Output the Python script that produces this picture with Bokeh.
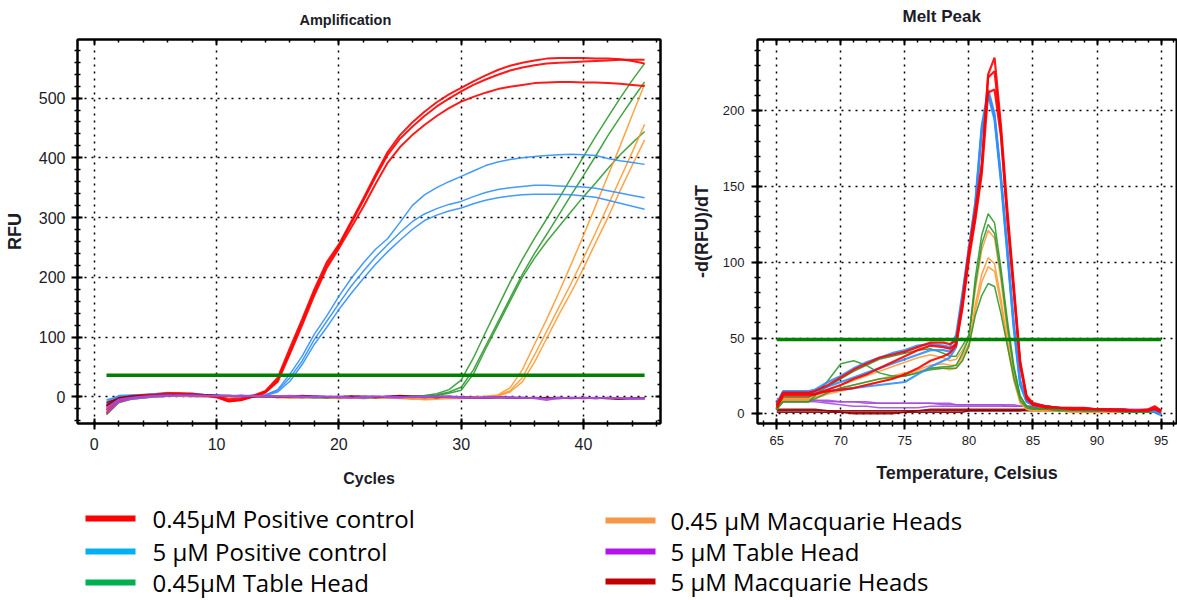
from bokeh.plotting import figure
from bokeh.models import Range1d, LinearAxis, FixedTicker, ColumnDataSource, CustomJSTickFormatter
from bokeh.layouts import column, row
from bokeh.embed import file_html
from bokeh.resources import INLINE
from bokeh.core.properties import value

# ---------------- data: amplification ----------------
CYCLES = list(range(1, 46))

AMP_POS_045 = [
    [-22, -4, 0, 2, 3, 5, 6, 5, 3, 1, -4, -3, 2, 10, 32, 82, 130, 180, 225, 255, 293, 332, 372, 410, 438, 459, 477, 493, 506, 517, 528, 538, 547, 554, 559, 563, 566, 567, 567, 567, 566, 566, 565, 562, 558],
    [-15, -2, 1, 3, 4, 6, 5, 4, 2, 0, -7, -5, 1, 8, 28, 76, 125, 175, 220, 252, 290, 328, 368, 405, 432, 452, 470, 486, 499, 511, 522, 531, 539, 546, 551, 555, 558, 559, 560, 561, 562, 563, 564, 564, 564],
    [-28, -8, -2, 1, 2, 4, 4, 3, 2, -1, -8, -6, 0, 7, 25, 72, 120, 170, 215, 248, 283, 318, 356, 392, 418, 438, 455, 470, 483, 494, 502, 509, 515, 519, 522, 525, 526, 527, 527, 526, 526, 525, 524, 522, 520],
]
AMP_POS_5 = [
    [-8, 2, 3, 4, 5, 7, 6, 6, 4, 3, 2, 2, 2, 3, 12, 38, 68, 105, 135, 168, 198, 224, 247, 265, 292, 320, 338, 350, 360, 369, 378, 387, 393, 397, 400, 402, 404, 405, 406, 405, 404, 399, 395, 392, 389],
    [-5, 0, 2, 3, 5, 6, 5, 4, 3, 2, 1, 1, 2, 3, 10, 32, 60, 96, 126, 156, 185, 210, 234, 255, 275, 293, 306, 315, 322, 327, 335, 342, 347, 350, 352, 354, 354, 353, 352, 351, 349, 345, 341, 337, 333],
    [-12, -2, 1, 2, 4, 5, 5, 4, 3, 2, 1, 0, 1, 2, 8, 26, 54, 88, 116, 146, 173, 198, 222, 243, 262, 280, 295, 304, 311, 316, 323, 329, 333, 336, 338, 339, 339, 339, 338, 336, 334, 329, 324, 319, 314],
]
AMP_TABLE_045 = [
    [-30, -10, -4, -2, 0, 1, 2, 2, 1, 2, 1, 0, 1, 1, 0, -1, -1, 0, -1, -2, -1, -2, -1, 0, 1, 1, 2, 5, 12, 28, 65, 108, 150, 192, 230, 265, 298, 332, 367, 402, 436, 468, 500, 530, 558],
    [-26, -8, -3, -1, 0, 1, 1, 2, 2, 1, 1, 0, 0, 1, 0, -1, 0, -1, -2, -1, -2, -3, -2, -1, 0, 1, 1, 3, 8, 16, 45, 85, 125, 165, 205, 240, 272, 305, 338, 370, 403, 437, 468, 498, 527],
    [-22, -6, -2, 0, 1, 1, 2, 1, 1, 0, 1, 1, 0, 0, -1, 0, -1, -2, -1, -3, -2, -2, -1, -1, 0, 0, 1, 2, 6, 11, 38, 80, 120, 160, 200, 232, 260, 285, 310, 335, 358, 382, 405, 425, 444],
]
AMP_MACQ_045 = [
    [-20, -6, -2, 0, 1, 1, 2, 1, 0, 1, 0, -1, 0, 1, 0, -1, -2, -1, 0, -1, -2, -1, 0, -1, -2, -3, -4, -2, -1, -2, 0, 1, 3, 15, 45, 88, 130, 175, 222, 270, 320, 370, 420, 472, 523],
    [-18, -5, -1, 0, 1, 2, 1, 1, 0, 0, -1, 0, 1, 0, -1, -1, 0, -1, -1, -2, -1, -1, -2, -2, -3, -4, -3, -2, -3, -2, -1, 0, 2, 10, 32, 70, 110, 150, 190, 232, 275, 320, 365, 410, 456],
    [-24, -7, -3, -1, 0, 1, 1, 0, 0, 1, 0, -1, 0, 0, -1, -2, -1, 0, -1, -2, -2, -1, -1, -2, -2, -3, -5, -4, -3, -3, -2, -1, 1, 8, 25, 58, 98, 138, 175, 215, 258, 300, 345, 388, 430],
]
AMP_TABLE_5 = [
    [-28, -9, -4, -2, 0, 1, 2, 1, 1, 2, 1, 0, 1, 2, 1, 0, -1, 1, 0, -1, -2, 0, 1, -1, -2, 0, 1, 0, -1, -2, -1, 0, -1, -2, -1, -3, -6, -2, -1, -2, -3, -1, -2, -4, -3],
    [-22, -6, -2, 0, 1, 2, 3, 2, 2, 1, 2, 1, 2, 1, 0, 1, 0, -1, 0, 1, -1, -2, 0, 1, 0, -1, 0, 1, 0, -1, -2, -1, 0, -1, -2, -1, -4, -3, -1, -2, -1, -2, -3, -2, -4],
    [-18, -4, -1, 1, 2, 3, 2, 3, 2, 2, 1, 2, 1, 0, 1, 2, 1, 0, 1, 0, -1, 0, 1, 0, -1, 0, -1, 0, 1, 0, -1, -2, -1, 0, -1, -2, -3, -1, -2, -1, -2, -1, -3, -4, -2],
]
AMP_MACQ_5 = [
    [-14, -3, 0, 1, 2, 2, 3, 4, 3, 2, 2, 1, 2, 1, 0, 1, 2, 1, 0, 0, 1, 0, -1, 1, 2, 0, -1, 0, 1, -1, -2, -1, 0, -1, -2, -1, -2, -3, -2, -1, -2, -3, -2, -3, -2],
    [-10, -2, 1, 2, 2, 3, 3, 2, 3, 2, 1, 1, 0, 1, 0, 0, 1, 0, -1, 0, 1, 1, 0, 0, 1, 1, 0, -1, 0, 0, -1, -2, -1, -1, -2, -2, -1, -2, -3, -2, -3, -2, -4, -3, -3],
    [-16, -4, -1, 0, 1, 2, 2, 3, 2, 1, 1, 2, 1, 0, 1, 0, 0, 1, 0, -1, 0, 0, -1, 0, 1, 0, 0, -1, 0, -1, -1, -2, -1, -2, -1, -2, -2, -1, -2, -3, -2, -3, -4, -2, -3],
]
AMP_THRESHOLD = 36

# ---------------- data: melt peak ----------------
TEMPS = [65, 65.5, 66, 67, 67.5, 68, 69, 70, 71, 72, 73, 74, 75, 76, 77, 78, 78.5, 79,
         79.5, 80, 80.5, 81, 81.5, 82, 82.5, 83, 83.5, 84, 84.5, 85,
         86, 87, 88, 89, 90, 91, 92, 93, 94, 94.5, 95]

MELT_POS_045 = [
    [6, 14, 14, 14, 14, 15, 19, 24, 29, 33, 37, 39, 41, 44, 47, 47, 46, 48, 75, 108, 135, 165, 224, 235, 190, 135, 85, 35, 12, 7, 5, 4, 4, 4, 3, 3, 3, 2, 2, 4, 2],
    [5, 13, 13, 13, 13, 13, 15, 16, 17, 19, 21, 23, 26, 30, 35, 38, 40, 45, 72, 105, 130, 162, 222, 226, 186, 130, 82, 33, 11, 6, 4, 4, 3, 3, 3, 3, 2, 2, 2, 3, 1],
    [4, 12, 12, 12, 12, 13, 16, 19, 23, 26, 30, 34, 38, 42, 45, 44, 43, 46, 70, 102, 128, 158, 212, 214, 183, 128, 80, 32, 10, 6, 5, 4, 3, 3, 3, 2, 2, 2, 3, 5, 2],
]
MELT_POS_5 = [
    [7, 15, 15, 15, 15, 16, 21, 25, 30, 34, 37, 40, 42, 45, 46, 45, 44, 52, 80, 110, 140, 190, 214, 198, 157, 110, 60, 22, 9, 7, 5, 4, 4, 3, 3, 3, 3, 2, 2, 2, 0],
    [6, 14, 14, 14, 14, 14, 15, 16, 17, 18, 19, 20, 21, 26, 31, 35, 37, 44, 78, 108, 138, 188, 212, 196, 155, 107, 58, 20, 8, 6, 5, 4, 3, 3, 3, 2, 2, 2, 2, 1, -1],
    [6, 14, 14, 14, 14, 15, 18, 21, 24, 27, 30, 33, 36, 39, 42, 42, 41, 47, 76, 106, 136, 186, 210, 194, 153, 105, 56, 19, 8, 6, 5, 4, 3, 3, 3, 2, 2, 2, 2, 2, 0],
]
MELT_TABLE_045 = [
    [3, 8, 8, 8, 8, 12, 22, 33, 35, 32, 27, 25, 25, 27, 30, 31, 31, 32, 40, 50, 90, 118, 132, 126, 96, 62, 32, 12, 5, 4, 3, 3, 3, 2, 2, 2, 2, 1, 1, 1, 0],
    [4, 11, 11, 11, 11, 13, 18, 23, 28, 32, 36, 38, 40, 42, 43, 40, 38, 38, 45, 52, 85, 112, 125, 119, 92, 58, 30, 11, 5, 4, 3, 3, 3, 2, 2, 2, 2, 1, 1, 1, 0],
    [3, 8, 8, 8, 8, 10, 14, 17, 19, 21, 23, 24, 25, 27, 29, 30, 30, 30, 35, 45, 65, 78, 86, 84, 66, 45, 24, 9, 4, 3, 3, 2, 2, 2, 2, 2, 1, 1, 1, 1, 0],
]
MELT_MACQ_045 = [
    [4, 10, 10, 10, 10, 12, 16, 19, 22, 25, 28, 31, 34, 37, 39, 37, 35, 36, 42, 50, 82, 108, 121, 116, 88, 54, 27, 9, 4, 3, 2, 2, 2, 2, 1, 1, 1, 1, 1, 2, 1],
    [4, 10, 10, 10, 10, 11, 14, 17, 19, 21, 23, 25, 27, 29, 32, 33, 32, 32, 38, 46, 72, 92, 103, 99, 76, 48, 24, 8, 3, 2, 2, 2, 2, 1, 1, 1, 1, 1, 1, 2, 1],
    [3, 9, 9, 9, 9, 10, 13, 15, 17, 19, 21, 23, 26, 28, 30, 30, 29, 30, 36, 44, 68, 87, 97, 94, 72, 45, 22, 7, 3, 2, 2, 2, 1, 1, 1, 1, 1, 1, 1, 2, 1],
]
MELT_TABLE_5 = [
    [9, 9, 9, 9, 9, 9, 8, 8, 8, 7, 7, 7, 7, 7, 7, 6, 6, 6, 6, 6, 6, 6, 6, 6, 6, 5, 5, 5, 5, 5, 5, 4, 4, 4, 3, 3, 3, 2, 2, 2, 2],
    [8, 8, 8, 8, 8, 8, 7, 6, 5, 5, 4, 4, 4, 4, 5, 5, 5, 5, 5, 5, 5, 5, 5, 5, 5, 5, 5, 5, 5, 4, 4, 4, 4, 3, 3, 3, 3, 2, 2, 2, 2],
    [10, 10, 10, 10, 10, 9, 9, 8, 8, 8, 7, 7, 7, 7, 7, 7, 7, 6, 6, 6, 6, 6, 6, 6, 6, 6, 6, 5, 5, 5, 5, 4, 4, 4, 3, 3, 3, 3, 3, 3, 2],
]
MELT_MACQ_5 = [
    [2, 2, 2, 2, 2, 2, 2, 1, 1, 1, 1, 1, 1, 2, 2, 2, 2, 2, 2, 2, 2, 2, 2, 2, 2, 2, 2, 2, 3, 3, 3, 3, 3, 3, 3, 3, 2, 2, 2, 3, 2],
    [1, 1, 1, 1, 1, 1, 1, 1, 0, 0, 0, 0, 1, 1, 1, 1, 1, 1, 1, 2, 2, 2, 2, 2, 2, 2, 2, 2, 2, 2, 2, 2, 2, 2, 2, 2, 2, 2, 1, 2, 1],
    [3, 3, 3, 3, 3, 3, 2, 2, 2, 2, 2, 2, 2, 2, 3, 3, 3, 3, 3, 3, 3, 3, 3, 3, 3, 3, 3, 3, 3, 3, 3, 3, 3, 3, 3, 3, 3, 2, 2, 3, 2],
]
MELT_THRESHOLD = 49

# ---------------- labels & colours ----------------
TITLES = ["Amplification", "Melt Peak"]
LEGEND_LABELS = ["0.45μM Positive control", "5 μM Positive control", "0.45μM Table Head",
                 "0.45 μM Macquarie Heads", "5 μM Table Head", "5 μM Macquarie Heads"]
LEGEND_COLORS = ["#FF0000", "#00B0F0", "#00B050", "#F79646", "#B414EB", "#C00000"]
LINE_COLORS = ["#FF0000", "#2F8FFF", "#2E9A2E", "#FF9A33", "#A64CE0", "#8B0000"]
X_TICKS_AMP = [0, 10, 20, 30, 40]
Y_TICKS_AMP = [0, 100, 200, 300, 400, 500]
X_TICKS_MELT = [65, 70, 75, 80, 85, 90, 95]
Y_TICKS_MELT = [0, 50, 100, 150, 200]

TICK_FONT = "Liberation Sans"
INK = "#1c1c28"
PAGE_W = 1177
TITLE_H = 29


def style_axis(ax, size, lab_size, standoff, lab_standoff):
    ax.axis_line_color = "black"
    ax.axis_line_width = 2
    ax.major_tick_line_color = "black"
    ax.major_tick_line_width = 2
    ax.major_tick_in = 5
    ax.major_tick_out = 6
    ax.minor_tick_line_color = "black"
    ax.minor_tick_line_width = 1.5
    ax.minor_tick_in = 3
    ax.minor_tick_out = 3
    ax.major_label_text_font = TICK_FONT
    ax.major_label_text_font_size = size
    ax.major_label_text_color = INK
    ax.major_label_standoff = standoff
    ax.axis_label_text_font = TICK_FONT
    ax.axis_label_text_font_style = "bold"
    ax.axis_label_text_font_size = lab_size
    ax.axis_label_text_color = INK
    ax.axis_label_standoff = lab_standoff


def frame_axis(ticker):
    ax = LinearAxis(ticker=ticker, formatter=CustomJSTickFormatter(code="return ''"))
    ax.axis_line_color = "black"
    ax.axis_line_width = 2
    ax.major_tick_line_color = "black"
    ax.major_tick_line_width = 2
    ax.major_tick_in = 5
    ax.major_tick_out = 0
    ax.minor_tick_line_color = "black"
    ax.minor_tick_line_width = 1.5
    ax.minor_tick_in = 3
    ax.minor_tick_out = 0
    ax.major_label_standoff = 0
    ax.major_label_text_font_size = "1px"
    return ax


def style_grid(p):
    for g in (p.xgrid, p.ygrid):
        g.grid_line_color = "black"
        g.grid_line_dash = "2 5"
        g.grid_line_width = 1.5


# ---------------- title strip ----------------
p0 = figure(width=PAGE_W, height=TITLE_H, x_range=Range1d(0, PAGE_W), y_range=Range1d(TITLE_H, 0),
            output_backend="svg", toolbar_location=None, x_axis_type=None, y_axis_type=None,
            min_border_left=0, min_border_right=0, min_border_top=0, min_border_bottom=0)
p0.outline_line_color = None
p0.grid.visible = False
title_src = ColumnDataSource(dict(x=[299, 902], y=[19, 16], text=TITLES, size=["14.5px", "17px"]))
p0.text("x", "y", text="text", source=title_src, text_font=value(TICK_FONT), text_font_style="bold",
        text_font_size="size", text_color=INK, text_align="left", text_baseline="middle")

# ---------------- amplification plot ----------------
p1 = figure(width=684, height=495 - TITLE_H, x_range=Range1d(-1.37, 46.3), y_range=Range1d(-44.7, 598),
            output_backend="svg", toolbar_location=None,
            min_border_left=77, min_border_right=24, min_border_top=38 - TITLE_H, min_border_bottom=72)
p1.outline_line_color = "black"
p1.outline_line_width = 2

xt1 = FixedTicker(ticks=X_TICKS_AMP, minor_ticks=list(range(-0, 47, 2)))
yt1 = FixedTicker(ticks=Y_TICKS_AMP, minor_ticks=list(range(-40, 600, 20)))
p1.xaxis.ticker = xt1
p1.yaxis.ticker = yt1
style_axis(p1.xaxis[0], "16px", "16px", 8, 17)
style_axis(p1.yaxis[0], "16px", "18px", 6, 11)
p1.xaxis.axis_label = "Cycles"
p1.yaxis.axis_label = "RFU"
p1.add_layout(frame_axis(xt1), "above")
p1.add_layout(frame_axis(yt1), "right")
style_grid(p1)

amp_groups = [AMP_POS_045, AMP_POS_5, AMP_TABLE_045, AMP_MACQ_045, AMP_TABLE_5, AMP_MACQ_5]
amp_order = [2, 3, 1, 0, 5, 4]
for gi in amp_order:
    grp = amp_groups[gi]
    src = ColumnDataSource(dict(xs=[CYCLES] * len(grp), ys=grp))
    p1.multi_line("xs", "ys", source=src, line_color=LINE_COLORS[gi],
                  line_width=2.0 if gi == 0 else 1.5, line_alpha=0.9)
p1.line([CYCLES[0], CYCLES[-1]], [AMP_THRESHOLD, AMP_THRESHOLD], line_color="#008000", line_width=3.5)

# ---------------- melt peak plot ----------------
p2 = figure(width=PAGE_W - 684, height=495 - TITLE_H, x_range=Range1d(63.5, 96.2), y_range=Range1d(-6.4, 247),
            output_backend="svg", toolbar_location=None,
            min_border_left=73, min_border_right=1, min_border_top=39 - TITLE_H, min_border_bottom=71)
p2.outline_line_color = "black"
p2.outline_line_width = 2

xt2 = FixedTicker(ticks=X_TICKS_MELT, minor_ticks=list(range(64, 97)))
yt2 = FixedTicker(ticks=Y_TICKS_MELT, minor_ticks=list(range(0, 250, 10)))
p2.xaxis.ticker = xt2
p2.yaxis.ticker = yt2
style_axis(p2.xaxis[0], "13px", "18px", 6, 15)
style_axis(p2.yaxis[0], "13px", "18px", 7, 8)
p2.xaxis.axis_label = "Temperature, Celsius"
p2.yaxis.axis_label = "-d(RFU)/dT"
p2.add_layout(frame_axis(xt2), "above")
style_grid(p2)

melt_groups = [MELT_POS_045, MELT_POS_5, MELT_TABLE_045, MELT_MACQ_045, MELT_TABLE_5, MELT_MACQ_5]
melt_order = [5, 4, 3, 2, 1, 0]
for gi in melt_order:
    grp = melt_groups[gi]
    src = ColumnDataSource(dict(xs=[TEMPS] * len(grp), ys=grp))
    p2.multi_line("xs", "ys", source=src, line_color=LINE_COLORS[gi],
                  line_width=2.2 if gi in (0, 1) else 1.5, line_alpha=0.9)
p2.line([TEMPS[0], TEMPS[-1]], [MELT_THRESHOLD, MELT_THRESHOLD], line_color="#008000", line_width=3.5)

# ---------------- legend strip ----------------
LEG_H = 105
p3 = figure(width=PAGE_W, height=LEG_H, x_range=Range1d(0, PAGE_W), y_range=Range1d(LEG_H, 0),
            output_backend="svg", toolbar_location=None, x_axis_type=None, y_axis_type=None,
            min_border_left=0, min_border_right=0, min_border_top=0, min_border_bottom=0)
p3.outline_line_color = None
p3.grid.visible = False
col_swatch_x = [85, 605]
col_text_x = [152, 670]
row_y = [[23, 56, 87], [25, 56, 86]]
lx0, lx1, ly, tx = [], [], [], []
for i in range(len(LEGEND_LABELS)):
    c, r = divmod(i, 3)
    lx0.append(col_swatch_x[c])
    lx1.append(col_swatch_x[c] + 50)
    ly.append(row_y[c][r])
    tx.append(col_text_x[c])
leg = ColumnDataSource(dict(x0=lx0, x1=lx1, y=ly, tx=tx, label=LEGEND_LABELS, color=LEGEND_COLORS))
p3.segment("x0", "y", "x1", "y", source=leg, line_color="color", line_width=6)
p3.text("tx", "y", text="label", source=leg, text_font=value("Open Sans"), text_font_size="24px",
        text_baseline="middle", text_align="left", text_color="black")

layout = column(p0, row(p1, p2), p3)
open("out.html", "w").write(file_html(layout, INLINE))
